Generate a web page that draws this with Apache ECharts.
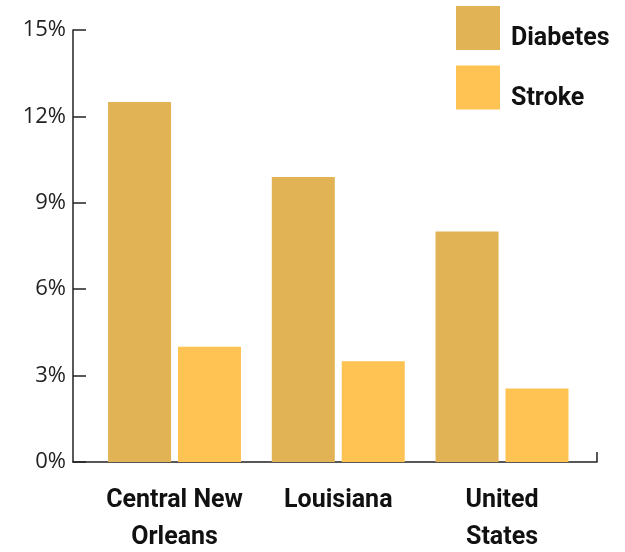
<!DOCTYPE html>
<html>
<head>
<meta charset="utf-8">
<script src="https://cdn.jsdelivr.net/npm/echarts@6/dist/echarts.min.js"></script>
<style>html,body{margin:0;padding:0;background:#fff}#c{width:625px;height:552px}</style>
</head>
<body>
<div id="c"></div>
<script>
const categories = ['Central New\nOrleans', 'Louisiana', 'United\nStates'];
const diabetes = [12.5, 9.9, 8.0];
const stroke = [4.0, 3.5, 2.55];
const yTicks = [0, 3, 6, 9, 12, 15];

const chart = echarts.init(document.getElementById('c'));
const pos = categories.map((c, i) => i);
chart.setOption({
  animation: false,
  grid: { left: 73, right: 28, top: 30, bottom: 90, outerBoundsMode: 'none', containLabel: false },
  legend: {
    orient: 'vertical', left: 456, top: 6, padding: 0,
    itemWidth: 44, itemHeight: 44, itemGap: 14,
    icon: 'rect',
    formatter: '{t|{name}}',
    textStyle: {
      rich: { t: { fontFamily: 'Roboto', fontWeight: 'bold', fontSize: 25, color: '#111', padding: [22, 0, 0, 6] } }
    },
    data: ['Diabetes', 'Stroke']
  },
  xAxis: {
    type: 'value', min: -0.62, max: 2.58,
    splitLine: { show: false },
    axisLine: { show: true, onZero: false, lineStyle: { color: '#222', width: 1.5 } },
    axisTick: { show: true, inside: true, length: 10, customValues: [2.58], lineStyle: { color: '#222', width: 1.5 } },
    axisLabel: {
      customValues: pos,
      formatter: v => categories[Math.round(v)],
      fontFamily: 'Roboto', fontWeight: 'bold', fontSize: 25, color: '#111',
      lineHeight: 37, margin: 20
    }
  },
  yAxis: {
    type: 'value', min: 0, max: 15, interval: 3,
    splitLine: { show: false },
    axisLine: { show: true, onZero: false, lineStyle: { color: '#222', width: 1.5 } },
    axisTick: { show: true, inside: true, length: 13, lineStyle: { color: '#222', width: 1.5 } },
    axisLabel: {
      formatter: v => yTicks.includes(v) ? v + '%' : '',
      fontFamily: 'Open Sans', fontSize: 22, color: '#222', margin: 7, padding: [4, 0, 0, 0]
    }
  },
  series: [
    { name: 'Diabetes', type: 'bar', barWidth: 63, barGap: '11%',
      itemStyle: { color: '#E2B354' },
      data: diabetes.map((v, i) => [pos[i], v]) },
    { name: 'Stroke', type: 'bar', barWidth: 63, barGap: '11%',
      itemStyle: { color: '#FEC352' },
      data: stroke.map((v, i) => [pos[i], v]) }
  ]
});
</script>
</body>
</html>
